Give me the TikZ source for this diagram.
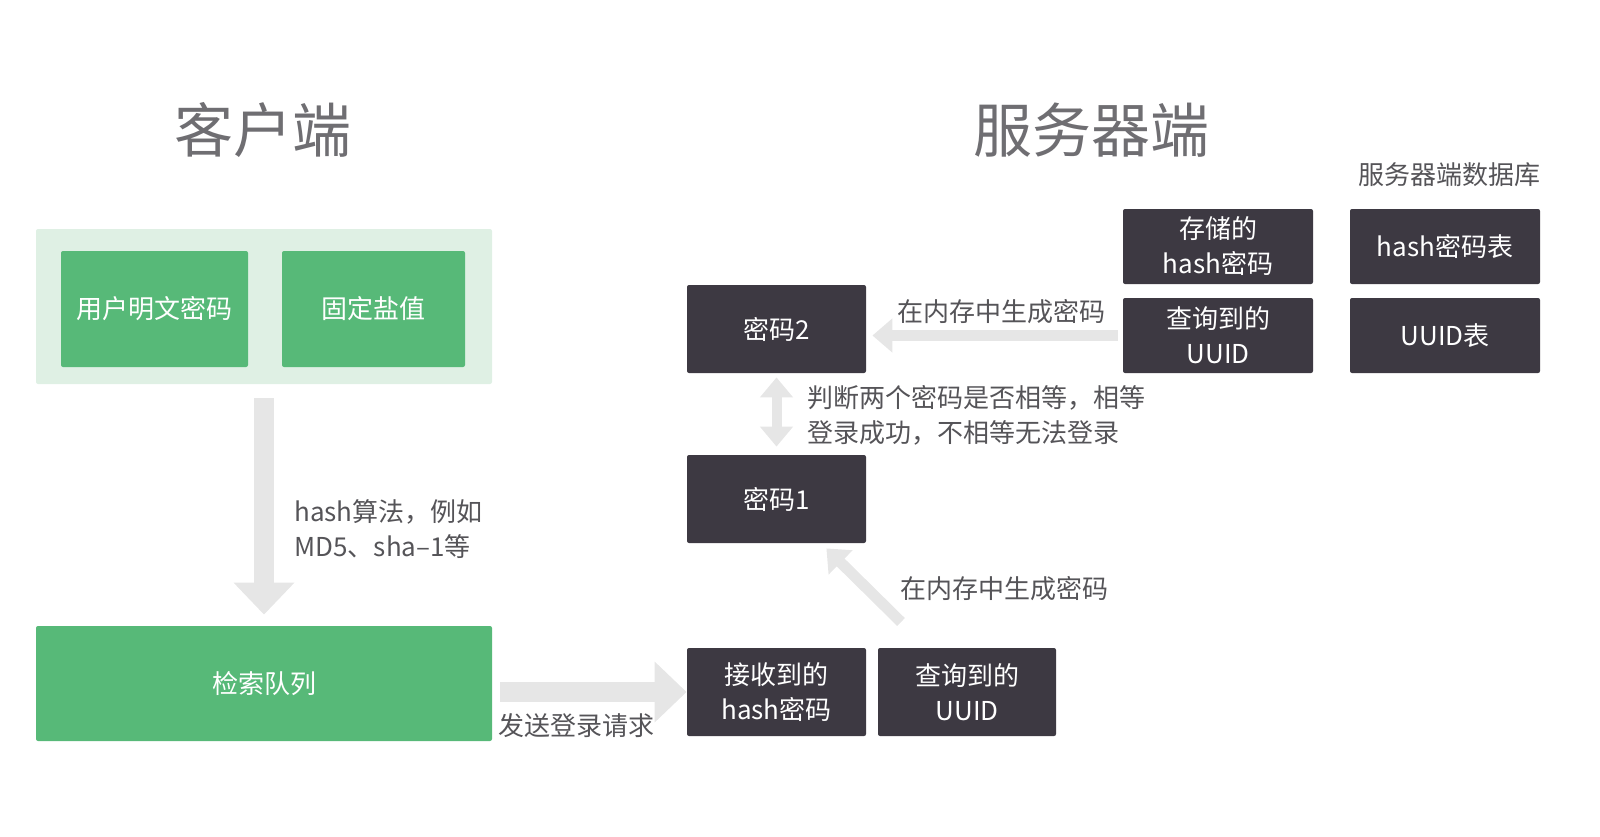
\documentclass[tikz,border=0pt]{standalone}
\usepackage{fontspec}
\setmainfont{Noto Sans CJK SC}
\usetikzlibrary{arrows.meta,calc}
\definecolor{boxgreen}{HTML}{57B978}
\definecolor{bggreen}{HTML}{DFF0E4}
\definecolor{boxdark}{HTML}{3D3942}
\definecolor{arrowgray}{HTML}{E6E6E6}
\definecolor{titlegray}{HTML}{6F6E72}
\definecolor{labelgray}{HTML}{555458}

\begin{document}
\begin{tikzpicture}[x=0.5pt, y=-0.5pt,
  bgbox/.style={fill=bggreen, rounded corners=1pt, inner sep=0pt},
  greenbox/.style={fill=boxgreen, rounded corners=1pt, text=white, font=\fontsize{13}{17.5}\selectfont, align=center, inner sep=0pt},
  darkbox/.style={fill=boxdark, rounded corners=1pt, text=white, font=\fontsize{13}{17.5}\selectfont, align=center, inner sep=0pt, minimum height=44pt},
  dbbox/.style={darkbox, minimum width=95pt, minimum height=37.5pt},
  title/.style={text=titlegray, font=\fontsize{29.5}{32}\selectfont},
  lbl/.style={text=labelgray, font=\fontsize{13}{17.5}\selectfont, align=left, inner sep=0pt},
  fatarrow/.style={draw=arrowgray, line width=10pt, -{Triangle[length=16pt, width=29.5pt]}},
  thinarrow/.style={draw=arrowgray, line width=5.5pt, -{Triangle[length=10pt, width=16.5pt]}}]
\useasboundingbox (0,0) rectangle (1600,836);
\node[title] (clienttitle) at (263,130) {客户端};
\node[title] (servertitle) at (1091,130) {服务器端};
\node[lbl] (dbtitle) at (1449,175) {服务器端数据库};
% client side
\node[bgbox, minimum width=228pt, minimum height=77.5pt] (client) at (264,306.5) {};
\node[greenbox, minimum width=93.5pt, minimum height=58pt] (plain) at (154.5,309) {用户明文密码};
\node[greenbox, minimum width=91.5pt, minimum height=58pt] (salt) at (373.5,309) {固定盐值};
\node[greenbox, minimum width=228pt, minimum height=57.5pt] (queue) at (264,683.5) {检索队列};
\draw[fatarrow, shorten <=7pt, shorten >=5.5pt] (client) -- (queue);
\node[lbl, anchor=west] (hashlbl) at (294,529) {hash算法，例如\\MD5、sha–1等};
% server side
\node[darkbox, minimum width=89.5pt] (pwdtwo) at (776.5,329) {密码2};
\node[darkbox, minimum width=89.5pt] (pwdone) at (776.5,499) {密码1};
\node[darkbox, minimum width=89.5pt] (recv) at (776.5,692) {接收到的\\hash密码};
\node[darkbox, minimum width=89pt] (uuidb) at (967,692) {查询到的\\UUID};
\node[dbbox] (stored) at (1218,246.5) {存储的\\hash密码};
\node[dbbox] (uuidt) at (1218,335.5) {查询到的\\UUID};
\node[dbbox] (hashtbl) at (1445,246.5) {hash密码表};
\node[dbbox] (uuidtbl) at (1445,335.5) {UUID表};
\draw[fatarrow, shorten <=4pt] (queue.east |- recv.west) -- (recv.west);
\node[lbl] (sendlbl) at (576,726) {发送登录请求};
\draw[thinarrow, shorten <=2.5pt, shorten >=3pt] (uuidt.west) -- (uuidt.west -| pwdtwo.east);
\node[lbl] (genlbltop) at (1001,312) {在内存中生成密码};
\draw[thinarrow, {Triangle[length=10pt, width=16pt]}-{Triangle[length=10pt, width=16pt]}, line width=5pt, shorten <=2pt, shorten >=4pt] (pwdtwo) -- (pwdone);
\node[lbl, anchor=west] (cmplbl) at (807,415) {判断两个密码是否相等，相等\\登录成功，不相等无法登录};
\coordinate (gentail) at (901,622);
\coordinate (genhead) at ($(pwdone.south east)+(-40,5)$);
\draw[thinarrow] (gentail) -- (genhead);
\node[lbl] (genlblbot) at (1004,589) {在内存中生成密码};
\end{tikzpicture}
\end{document}
